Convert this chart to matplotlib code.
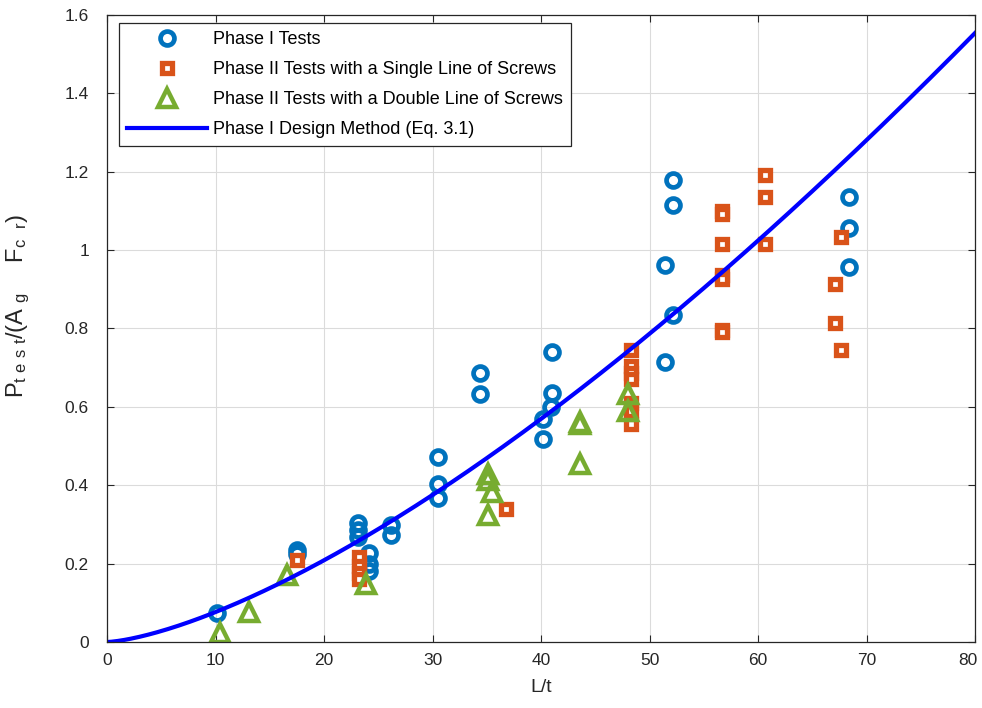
import numpy as np
import matplotlib.pyplot as plt
import matplotlib.transforms as mtransforms

plt.rcParams['font.family'] = ['Liberation Sans', 'DejaVu Sans']
plt.rcParams['mathtext.default'] = 'regular'

# Phase I tests (circles)
p1_x = [10.1, 17.5, 17.5, 23.1, 23.1, 23.1, 24.1, 24.1, 24.1, 26.2, 26.2,
        30.5, 30.5, 30.5, 34.4, 34.4, 41.0, 41.0, 40.9, 40.2, 40.2,
        52.2, 52.2, 51.4, 52.2, 51.4, 68.4, 68.4, 68.4]
p1_y = [0.074, 0.235, 0.225, 0.304, 0.286, 0.268, 0.228, 0.200, 0.180, 0.298, 0.274,
        0.472, 0.403, 0.367, 0.686, 0.633, 0.740, 0.635, 0.600, 0.569, 0.518,
        1.179, 1.115, 0.962, 0.834, 0.714, 1.135, 1.056, 0.957]

# Phase II, single line of screws (squares)
s_x = [17.5, 23.2, 23.2, 23.2, 23.2, 36.8,
       48.3, 48.3, 48.3, 48.3, 48.3, 48.3, 48.3,
       56.7, 56.7, 56.7, 56.7, 56.7, 56.7, 56.7,
       60.6, 60.6, 60.6, 67.6, 67.1, 67.1, 67.6]
s_y = [0.209, 0.217, 0.195, 0.175, 0.160, 0.340,
       0.745, 0.705, 0.685, 0.670, 0.610, 0.590, 0.555,
       1.100, 1.092, 1.015, 0.935, 0.927, 0.795, 0.790,
       1.191, 1.136, 1.015, 1.033, 0.913, 0.813, 0.745]

# Phase II, double line of screws (triangles)
d_x = [10.4, 13.1, 16.6, 23.9, 35.1, 35.1, 35.5, 35.1, 43.6, 43.6, 43.6, 48.0, 48.0]
d_y = [0.022, 0.077, 0.172, 0.148, 0.428, 0.412, 0.382, 0.325, 0.562, 0.556, 0.455, 0.632, 0.590]

# Phase I design method curve (Eq. 3.1)
eq_x = [5, 10, 15, 20, 25, 30, 35, 40, 45, 50, 55, 60, 65, 70, 75, 80]
eq_y = [0.027, 0.075, 0.140, 0.215, 0.295, 0.385, 0.477, 0.575, 0.680, 0.787,
        0.897, 1.013, 1.133, 1.258, 1.392, 1.535]

fig = plt.figure(figsize=(9.82, 7.08), dpi=100)
ax = fig.add_axes([0.109, 0.0932, 0.884, 0.886])

ax.plot(p1_x, p1_y, 'o', ls='none', mfc='none', mec='#0072BD', ms=10, mew=3.4,
        label='Phase I Tests')
ax.plot(s_x, s_y, 's', ls='none', mfc='white', mec='#D95319', ms=7.5, mew=3.8,
        label='Phase II Tests with a Single Line of Screws')
ax.plot(d_x, d_y, '^', ls='none', mfc='none', mec='#77AC30', ms=12.5, mew=3.2,
        label='Phase II Tests with a Double Line of Screws')

# smooth power-law through the read-off points (passes through origin)
b, loga = np.polyfit(np.log(eq_x), np.log(eq_y), 1)
xs = np.linspace(0, 80, 400)
ax.plot(xs, np.exp(loga) * xs ** b, color='#0000FF', lw=3,
        label='Phase I Design Method (Eq. 3.1)')

ax.set_xlim(0, 80)
ax.set_ylim(0, 1.6)
ax.set_xticks(range(0, 81, 10))
ax.set_yticks(np.arange(0, 1.61, 0.2))
ax.set_yticklabels(['0', '0.2', '0.4', '0.6', '0.8', '1', '1.2', '1.4', '1.6'])
ax.grid(True, color='#DBDBDB', lw=0.8)
ax.set_axisbelow(True)
ax.tick_params(direction='in', top=True, right=True, length=5, labelsize=12.5,
               colors='#262626')
ax.tick_params(axis='y', pad=13)
ax.tick_params(axis='x', pad=8)
for sp in ax.spines.values():
    sp.set_color('#262626')
    sp.set_linewidth(0.9)

# nudge the last x tick label so it stays inside the figure
last = ax.get_xticklabels()[-1]
last.set_transform(last.get_transform() +
                   mtransforms.ScaledTranslation(-7 / 100, 0, fig.dpi_scale_trans))

ax.set_xlabel('L/t', fontsize=14, color='#262626', labelpad=8)
ax.set_ylabel(r'$P_{t\ e\ s\ t}/(A_{\ g}\ \ \ \ F_{c\ \ r})$', fontsize=17,
              color='#262626')
ax.yaxis.set_label_coords(-0.087, 0.535)

leg = ax.legend(loc='upper left', bbox_to_anchor=(0.0138, 0.987), fontsize=13,
                fancybox=False, framealpha=1, edgecolor='#262626',
                handlelength=4.4, borderpad=0.45, labelspacing=0.72, handletextpad=0.35,
                borderaxespad=0)
leg.get_frame().set_linewidth(0.9)

fig.savefig('out.png', dpi=100)
